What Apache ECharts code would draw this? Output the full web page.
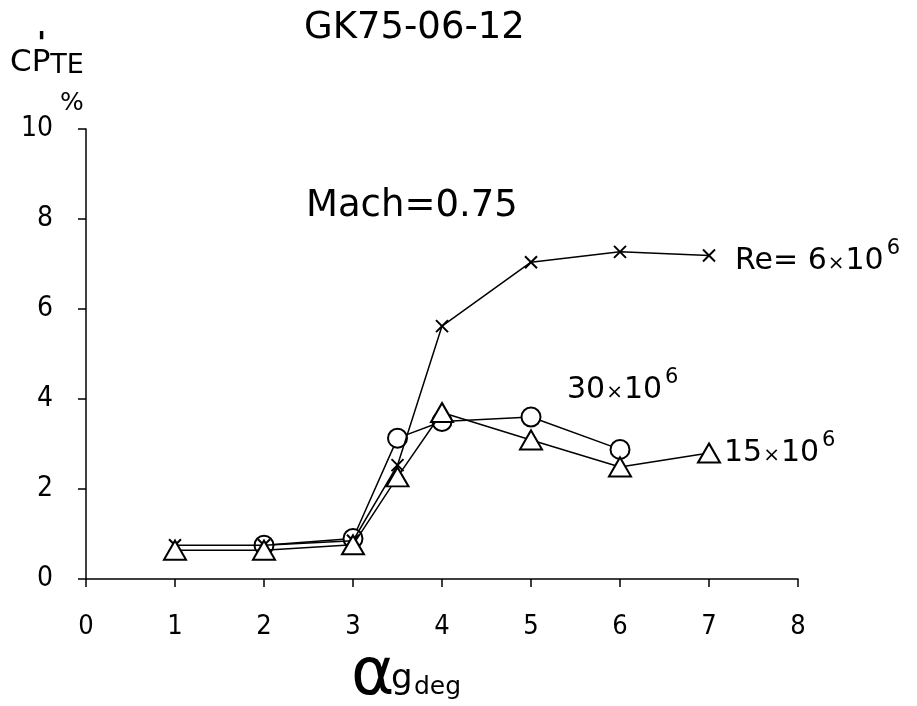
<!DOCTYPE html>
<html><head><meta charset="utf-8">
<script src="https://cdn.jsdelivr.net/npm/echarts@6/dist/echarts.min.js"></script>
<style>html,body{margin:0;padding:0;background:#fff}#c{width:917px;height:706px}</style>
</head><body><div id="c"></div>
<script>
const xTicks = [0,1,2,3,4,5,6,7,8];
const yTicks = [0,2,4,6,8,10];
const alphaRe6  = [1, 2, 3, 3.5, 4, 5, 6, 7];
const cpRe6     = [0.75, 0.75, 0.85, 2.53, 5.62, 7.04, 7.27, 7.19];
const alphaRe30 = [2, 3, 3.5, 4, 5, 6];
const cpRe30    = [0.75, 0.9, 3.13, 3.5, 3.6, 2.88];
const alphaRe15 = [1, 2, 3, 3.5, 4, 5, 6, 7];
const cpRe15    = [0.64, 0.64, 0.76, 2.27, 3.7, 3.09, 2.49, 2.8];

const pair = (xs, ys) => xs.map((x, i) => [x, ys[i]]);
const font = '"DejaVu Sans", "Liberation Sans", sans-serif';
const tickFont = '"Liberation Sans Narrow", "DejaVu Sans Condensed", "Liberation Sans", sans-serif';
const chart = echarts.init(document.getElementById('c'));
const lineStyle = {color: '#000', width: 1.5};
const rich = {
  n: {font: '30px ' + font, fill: '#000'},
  x: {font: '20px ' + font, fill: '#000', padding: [4,1,0,1]},
  s: {font: '21px ' + font, fill: '#000', padding: [0,0,26,3]}
};
chart.setOption({
  animation: false,
  backgroundColor: '#fff',
  grid: {left: 86, right: 119, top: 129, bottom: 127},
  xAxis: {
    type: 'value', min: 0, max: 8, interval: 1,
    axisLine: {lineStyle: {color: '#000', width: 1.5}},
    axisTick: {length: 8, lineStyle: {color: '#000', width: 1.5}},
    axisLabel: {color: '#000', fontSize: 27, fontFamily: tickFont, margin: 34,
      formatter: v => xTicks.includes(v) ? String(v) : ''},
    splitLine: {show: false}
  },
  yAxis: {
    type: 'value', min: 0, max: 10, interval: 2,
    axisLine: {show: true, lineStyle: {color: '#000', width: 1.5}},
    axisTick: {show: true, length: 8, lineStyle: {color: '#000', width: 1.5}},
    axisLabel: {color: '#000', fontSize: 28, fontFamily: tickFont, margin: 33,
      formatter: v => yTicks.includes(v) ? String(v) : ''},
    splitLine: {show: false}
  },
  series: [
    {type: 'line', data: pair(alphaRe6, cpRe6), symbol: 'path://M0,0L10,10M10,0L0,10', symbolSize: 12,
     lineStyle, itemStyle: {color: 'none', borderColor: '#000', borderWidth: 2}, z: 3},
    {type: 'line', data: pair(alphaRe30, cpRe30), symbol: 'emptyCircle', symbolSize: 19,
     lineStyle, itemStyle: {color: '#000', borderWidth: 2}, z: 2},
    {type: 'line', data: pair(alphaRe15, cpRe15), symbol: 'emptyTriangle', symbolSize: [22, 19],
     lineStyle, itemStyle: {color: '#000', borderWidth: 2}, z: 4}
  ],
  graphic: [
    {type: 'text', left: 304, top: 10, style: {text: 'GK75-06-12', font: '37px ' + font, fill: '#000'}},
    {type: 'text', left: 10, top: 47, style: {text: '{c|CP}{s|TE}', rich: {c: {font: '31px ' + font, fill: '#000'}, s: {font: '27px ' + font, fill: '#000', padding: [6,0,0,0]}}}},
    {type: 'text', left: 37, top: 30, style: {text: "'", font: 'bold 30px ' + font, fill: '#000'}},
    {type: 'text', left: 60, top: 91, style: {text: '%', font: '25px ' + font, fill: '#000'}},
    {type: 'text', left: 306, top: 188, style: {text: 'Mach=0.75', font: '37px ' + font, fill: '#000'}},
    {type: 'text', left: 735, top: 238, style: {text: '{n|Re= 6}{x|×}{n|10}{s|6}', rich}},
    {type: 'text', left: 567, top: 367, style: {text: '{n|30}{x|×}{n|10}{s|6}', rich}},
    {type: 'text', left: 724, top: 430, style: {text: '{n|15}{x|×}{n|10}{s|6}', rich}},
    {type: 'text', left: 351, top: 644, style: {text: 'α', font: '66px ' + font, fill: '#000'}},
    {type: 'text', left: 391, top: 662, style: {text: 'g', font: '34px ' + font, fill: '#000'}},
    {type: 'text', left: 414, top: 675, style: {text: 'deg', font: '25px ' + font, fill: '#000'}}
  ]
});
</script></body></html>
